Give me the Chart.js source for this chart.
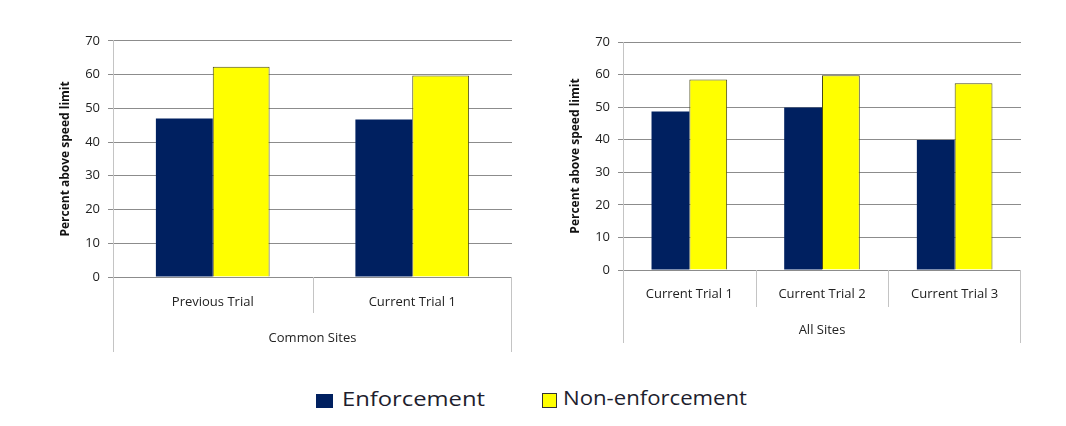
<!DOCTYPE html>
<html>
<head>
<meta charset="utf-8">
<script src="https://cdn.jsdelivr.net/npm/chart.js@4.4.0/dist/chart.umd.min.js"></script>
<style>
  html, body { margin: 0; padding: 0; background: #ffffff; }
  body { width: 1066px; height: 426px; position: relative; overflow: hidden; font-family: "Open Sans", sans-serif; }
  .wrap { position: absolute; }
  .legend-item { position: absolute; font-size: 20px; color: #1e1e2e; white-space: nowrap; line-height: 1; transform-origin: 0 50%; }
  .swatch { position: absolute; box-sizing: border-box; }
</style>
</head>
<body>
<div class="wrap" style="left:40px; top:25px; width:480px; height:340px;"><canvas id="left"></canvas></div>
<div class="wrap" style="left:550px; top:25px; width:480px; height:340px;"><canvas id="right"></canvas></div>

<div class="swatch" style="left:316px; top:394px; width:17px; height:14px; background:#002060;"></div>
<div class="legend-item" id="lg1" style="left:342px; top:389px;">Enforcement</div>
<div class="swatch" style="left:542px; top:393px; width:15px; height:15px; background:#FFFF00; border:1px solid #333;"></div>
<div class="legend-item" id="lg2" style="left:563px; top:388px;">Non-enforcement</div>

<script>
// ---- Data ----
const seriesNames = ["Enforcement", "Non-enforcement"];

const leftCategories = ["Previous Trial", "Current Trial 1"];
const leftGroup = "Common Sites";
const leftEnforcement = [47.0, 46.7];
const leftNonEnforcement = [62.3, 59.7];

const rightCategories = ["Current Trial 1", "Current Trial 2", "Current Trial 3"];
const rightGroup = "All Sites";
const rightEnforcement = [48.7, 49.9, 39.9];
const rightNonEnforcement = [58.5, 59.8, 57.3];

const yTicks = [0, 10, 20, 30, 40, 50, 60, 70];
const yTitle = "Percent above speed limit";

// ---- Styles ----
const NAVY = "#002060";
const YELLOW = "#FFFF00";
const FONT = "'Open Sans', sans-serif";

// plugin drawing category group separators below the axis
const groupLines = {
  id: "groupLines",
  afterDraw(chart, args, opts) {
    const x = chart.scales.x;
    const ca = chart.chartArea;
    const ctx = chart.ctx;
    const n = chart.data.labels.length;
    ctx.save();
    ctx.strokeStyle = "#c4c4c4";
    ctx.lineWidth = 1;
    ctx.beginPath();
    for (let i = 1; i < n; i++) {
      const bx = Math.round((x.getPixelForValue(i - 1) + x.getPixelForValue(i)) / 2) + 0.5;
      ctx.moveTo(bx, ca.bottom);
      ctx.lineTo(bx, ca.bottom + opts.sepLen);
    }
    const lx = Math.round(ca.left) + 0.5, rx = Math.round(ca.right) - 0.5;
    ctx.moveTo(lx, ca.bottom);
    ctx.lineTo(lx, x.bottom);
    ctx.moveTo(rx, ca.bottom);
    ctx.lineTo(rx, x.bottom);
    ctx.stroke();
    ctx.restore();
  }
};

function makeChart(id, cats, group, enf, non, cfg) {
  return new Chart(document.getElementById(id), {
    type: "bar",
    data: {
      labels: cats,
      datasets: [
        { label: seriesNames[0], data: enf, backgroundColor: NAVY, borderWidth: 0 },
        { label: seriesNames[1], data: non, backgroundColor: YELLOW, borderColor: "#4a4a1a", borderWidth: 1 }
      ]
    },
    options: {
      responsive: true,
      maintainAspectRatio: false,
      animation: false,
      layout: { padding: cfg.padding },
      datasets: { bar: { barPercentage: 1.0, categoryPercentage: 0.57 } },
      plugins: {
        legend: { display: false },
        tooltip: { enabled: false },
        groupLines: { sepLen: cfg.sepLen }
      },
      scales: {
        x: {
          grid: { display: false },
          border: { display: false },
          ticks: { color: "#222", font: { family: FONT, size: 13 }, padding: cfg.tickPad, maxRotation: 0 },
          title: { display: true, text: group, color: "#222", font: { family: FONT, size: 13 }, padding: { top: 0, bottom: cfg.titlePad } },
          afterFit(s) { s.height = cfg.xHeight; }
        },
        y: {
          min: 0, max: 70,
          afterBuildTicks(s) { s.ticks = yTicks.map(v => ({ value: v })); },
          grid: { color: "#8c8c8c", tickLength: 5, drawTicks: true },
          border: { color: "#c4c4c4" },
          ticks: { color: "#222", font: { family: FONT, size: 13 }, padding: 8 },
          title: { display: true, text: yTitle, color: "#111", font: { family: FONT, size: 12, weight: "bold" }, padding: { top: 18, bottom: 0 } },
          afterFit(s) { s.width = 73; }
        }
      }
    },
    plugins: [groupLines]
  });
}

makeChart("left", leftCategories, leftGroup, leftEnforcement, leftNonEnforcement,
  { padding: { top: 14, left: 0, right: 8, bottom: 13 }, xHeight: 75, tickPad: 9, titlePad: 6, sepLen: 36 });
makeChart("right", rightCategories, rightGroup, rightEnforcement, rightNonEnforcement,
  { padding: { top: 17, left: 0, right: 9, bottom: 22 }, xHeight: 73, tickPad: 8, titlePad: 5, sepLen: 37 });

// stretch legend text horizontally to match reference widths
function fitWidth(id, target) {
  const el = document.getElementById(id);
  const w = el.getBoundingClientRect().width;
  el.style.transform = "scaleX(" + (target / w) + ")";
}
fitWidth("lg1", 143);
fitWidth("lg2", 184);
</script>
</body>
</html>
